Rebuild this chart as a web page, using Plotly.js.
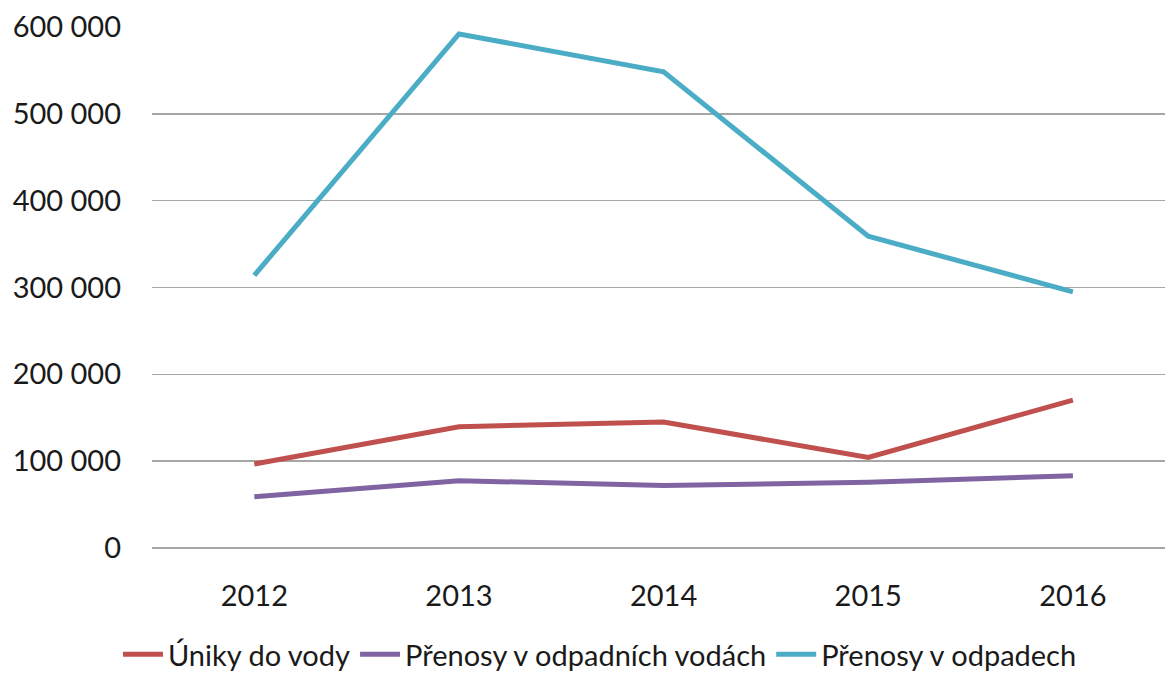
<!DOCTYPE html>
<html>
<head>
<meta charset="utf-8">
<script src="https://cdn.plot.ly/plotly-3.0.1.min.js"></script>
<style>html,body{margin:0;padding:0;background:#fff;}#chart{width:1165px;height:680px;}</style>
</head>
<body>
<div id="chart"></div>
<script>
const years = ["2012", "2013", "2014", "2015", "2016"];
const unikyDoVody = [96700, 139700, 145000, 104400, 170400];
const prenosyOdpadniVody = [59100, 77500, 72000, 75600, 83300];
const prenosyOdpady = [314000, 592000, 548500, 359000, 295000];
const seriesNames = ["Úniky do vody", "Přenosy v odpadních vodách", "Přenosy v odpadech"];
const yTickVals = [0, 100000, 200000, 300000, 400000, 500000, 600000];
const yTickText = ["0", "100 000", "200 000", "300 000", "400 000", "500 000", "600 000"];

const font = "Lato, 'Open Sans', sans-serif";
const mk = (y, name, color) => ({
  x: years, y: y, name: name, type: "scatter", mode: "lines",
  line: {color: color, width: 5}
});
const data = [
  mk(unikyDoVody, seriesNames[0], "#C0504D"),
  mk(prenosyOdpadniVody, seriesNames[1], "#8064A2"),
  mk(prenosyOdpady, seriesNames[2], "#4BACC6")
];
const layout = {
  width: 1165, height: 680,
  margin: {l: 152, r: 0, t: 27, b: 132},
  paper_bgcolor: "#fff", plot_bgcolor: "#fff",
  font: {family: font, size: 29, color: "#1a1a1a"},
  showlegend: true,
  legend: {
    orientation: "h", xref: "container", yref: "container",
    x: 0.515, xanchor: "center", y: -0.012, yanchor: "bottom",
    font: {family: font, size: 29, color: "#1a1a1a"},
    itemwidth: 40, tracegroupgap: 0
  },
  xaxis: {
    type: "category", range: [-0.5, 4.45],
    showgrid: false, zeroline: false, showline: false,
    ticks: "", ticklabelstandoff: 28,
    tickfont: {family: font, size: 29, color: "#1a1a1a"}
  },
  yaxis: {
    range: [0, 600000], tickvals: yTickVals, ticktext: yTickText,
    showgrid: true, gridcolor: "#a6a6a6", gridwidth: 1.5,
    zeroline: true, zerolinecolor: "#a6a6a6", zerolinewidth: 1.5,
    showline: false, ticks: "", ticklabelstandoff: 30,
    tickfont: {family: font, size: 29, color: "#1a1a1a"}
  }
};
Plotly.newPlot("chart", data, layout, {displayModeBar: false, staticPlot: true});
</script>
</body>
</html>
